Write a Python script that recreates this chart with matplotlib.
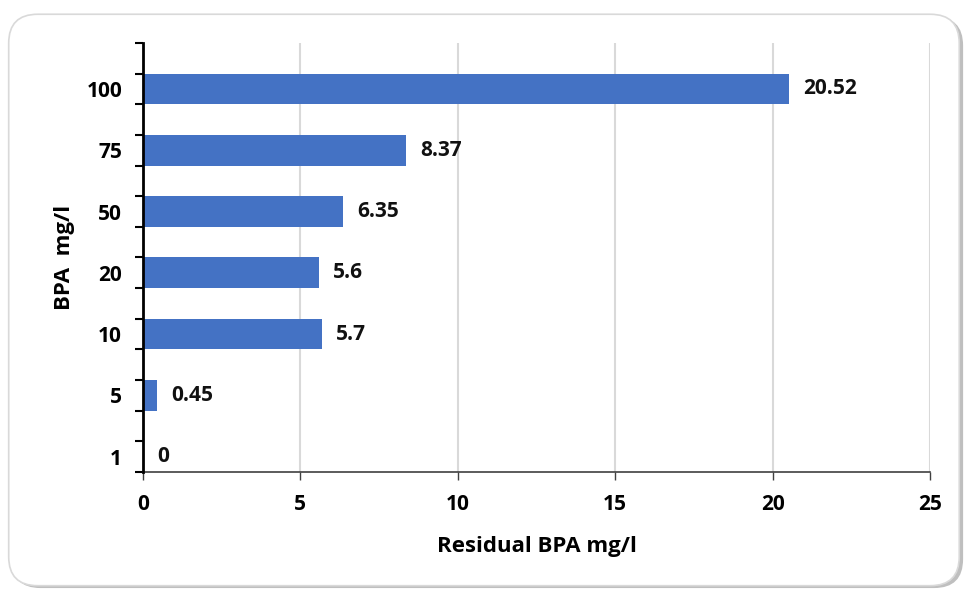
import matplotlib
matplotlib.use("Agg")
import matplotlib.pyplot as plt
from matplotlib.patches import FancyBboxPatch
from matplotlib.ticker import FixedLocator

# BPA dose categories and the residual BPA measured for each
categories = ["1", "5", "10", "20", "50", "75", "100"]
residual = [0, 0.45, 5.7, 5.6, 6.35, 8.37, 20.52]
value_labels = ["0", "0.45", "5.7", "5.6", "6.35", "8.37", "20.52"]
x_ticks = [0, 5, 10, 15, 20, 25]

plt.rcParams["font.family"] = ["Open Sans", "DejaVu Sans"]
plt.rcParams["font.weight"] = "bold"
FS = 15
LFS = 16

fig = plt.figure(figsize=(9.66, 5.94), dpi=100)

# rounded card behind the chart, with a soft shadow
shadow = FancyBboxPatch((0.012, 0.010), 0.985, 0.962,
                        boxstyle="round,pad=0,rounding_size=0.03",
                        transform=fig.transFigure, facecolor="#BFBFBF",
                        edgecolor="none", zorder=0, mutation_aspect=966/594)
card = FancyBboxPatch((0.009, 0.014), 0.984, 0.962,
                      boxstyle="round,pad=0,rounding_size=0.03",
                      transform=fig.transFigure, facecolor="white",
                      edgecolor="#D9D9D9", linewidth=1.2, zorder=1,
                      mutation_aspect=966/594)
fig.patches.extend([shadow, card])

ax = fig.add_axes([0.148, 0.2054, 0.8147, 0.7222])
ax.set_facecolor("none")
ax.set_zorder(2)

pos = list(range(len(categories)))
bar_h = 0.5
ax.barh(pos, residual, height=bar_h, color="#4472C4", zorder=3)

for p, v, lab in zip(pos, residual, value_labels):
    ax.annotate(lab, (v, p), xytext=(10, 0), textcoords="offset points",
                ha="left", va="center", fontsize=FS, fontweight="bold",
                color="#111111", zorder=4)

ax.set_xlim(0, 25)
ax.set_ylim(-bar_h / 2, len(categories) - 1 + 3 * bar_h / 2)
ax.set_xticks(x_ticks)
ax.set_xticklabels([str(t) for t in x_ticks], fontsize=FS, fontweight="bold")
ax.set_yticks(pos)
ax.set_yticklabels(categories, fontsize=FS, fontweight="bold")
# ticks at every bar edge and gap edge along the category axis
edges = [-bar_h / 2 + k * bar_h for k in range(2 * len(categories) + 1)]
ax.yaxis.set_minor_locator(FixedLocator(edges))
ax.tick_params(axis="y", which="major", length=0, pad=15)
ax.tick_params(axis="y", which="minor", length=6, width=1.5, color="black", direction="out")
ax.tick_params(axis="x", which="major", length=6, width=1, color="#404040", pad=10)

ax.grid(axis="x", color="#D9D9D9", linewidth=1.5, zorder=0)
ax.set_axisbelow(True)

for side in ("top", "right"):
    ax.spines[side].set_visible(False)
ax.spines["left"].set_linewidth(2)
ax.spines["left"].set_color("black")
ax.spines["left"].set_zorder(5)
ax.spines["bottom"].set_linewidth(1.2)
ax.spines["bottom"].set_color("#404040")

ax.set_xlabel("Residual BPA mg/l", fontsize=LFS, fontweight="bold", labelpad=15)
ax.set_ylabel("BPA  mg/l", fontsize=LFS, fontweight="bold", labelpad=8)

fig.savefig("out.png", dpi=100)
